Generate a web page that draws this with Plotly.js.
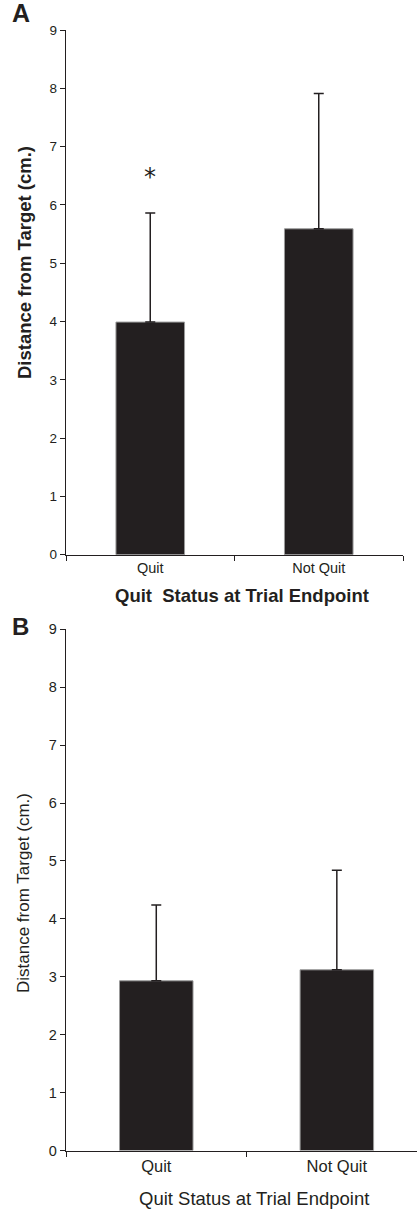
<!DOCTYPE html>
<html>
<head>
<meta charset="utf-8">
<script src="https://cdn.plot.ly/plotly-3.0.1.min.js"></script>
<style>
html,body{margin:0;padding:0;background:#fff;overflow:hidden;}
#chart{width:417px;height:1209px;}
</style>
</head>
<body>
<div id="chart"></div>
<script>
// ---- data ----
const categories = ['Quit', 'Not Quit'];
const meanA = [3.99, 5.59];
const errA = [1.87, 2.32];
const meanB = [2.93, 3.12];
const errB = [1.31, 1.72];
const yTicks = [0, 1, 2, 3, 4, 5, 6, 7, 8, 9];
const yTitle = 'Distance from Target (cm.)';
const xTitleA = 'Quit  Status at Trial Endpoint';
const xTitleB = 'Quit Status at Trial Endpoint';
const sigMarkY = 6.52;

const ink = '#231f20';
const FONT = 'Liberation Sans, Arial, sans-serif';

const traceA = {
  type: 'bar', x: categories, y: meanA, xaxis: 'x', yaxis: 'y',
  marker: {color: ink, line: {color: '#9a9a9a', width: 1}},
  width: 0.407,
  error_y: {type: 'data', symmetric: false, array: errA, arrayminus: [0, 0],
            color: ink, thickness: 1.5, width: 5},
  hoverinfo: 'x+y', showlegend: false
};
const traceB = {
  type: 'bar', x: categories, y: meanB, xaxis: 'x2', yaxis: 'y2',
  marker: {color: ink, line: {color: '#9a9a9a', width: 1}},
  width: 0.407,
  error_y: {type: 'data', symmetric: false, array: errB, arrayminus: [0, 0],
            color: ink, thickness: 1.5, width: 5},
  hoverinfo: 'x+y', showlegend: false
};

const W = 417, H = 1209;
const px = v => v / W;
const py = v => 1 - v / H;

function yAxis(domain, size, anchor) {
  return {
    domain: domain, anchor: anchor, range: [0, 9], tickvals: yTicks,
    ticks: 'outside', ticklen: 5, tickwidth: 1, tickcolor: ink,
    showline: true, linecolor: ink, linewidth: 1.2,
    showgrid: false, zeroline: false, automargin: false,
    tickfont: {family: FONT, size: size, color: ink}, fixedrange: true
  };
}
function xAxis(domain, range, size, anchor) {
  return {
    domain: domain, anchor: anchor, type: 'category', range: range,
    tickson: 'boundaries', ticks: 'outside', ticklen: 5, tickwidth: 1, tickcolor: ink,
    showline: true, linecolor: ink, linewidth: 1.2,
    showgrid: false, zeroline: false, automargin: false,
    tickfont: {family: FONT, size: size, color: ink}, fixedrange: true
  };
}

const layout = {
  width: W, height: H,
  margin: {l: 0, r: 0, t: 0, b: 0},
  paper_bgcolor: '#fff', plot_bgcolor: '#fff',
  bargap: 0.6,
  xaxis: xAxis([px(66), px(403)], [-0.5, 1.5], 14.5, 'y'),
  yaxis: yAxis([py(554.7), py(30)], 13.5, 'x'),
  xaxis2: xAxis([px(66), 1], [-0.5, 1.444], 16.5, 'y2'),
  yaxis2: yAxis([py(1150.5), py(629.3)], 14.5, 'x2'),
  annotations: [
    {text: '<b>A</b>', xref: 'paper', yref: 'paper', x: px(10), y: py(13),
     xanchor: 'left', yanchor: 'middle', showarrow: false,
     font: {family: FONT, size: 25, color: ink}},
    {text: '<b>B</b>', xref: 'paper', yref: 'paper', x: px(10), y: py(626),
     xanchor: 'left', yanchor: 'middle', showarrow: false,
     font: {family: FONT, size: 24, color: ink}},
    {text: '<b>' + yTitle + '</b>', xref: 'paper', yref: 'paper', x: px(25), y: py(263),
     xanchor: 'center', yanchor: 'middle', textangle: -90, showarrow: false,
     font: {family: FONT, size: 18.5, color: ink}},
    {text: yTitle, xref: 'paper', yref: 'paper', x: px(23), y: py(893),
     xanchor: 'center', yanchor: 'middle', textangle: -90, showarrow: false,
     font: {family: FONT, size: 17, color: ink}},
    {text: '<b>' + xTitleA.replace('  ', ' &nbsp;') + '</b>', xref: 'paper', yref: 'paper', x: px(242), y: py(595),
     xanchor: 'center', yanchor: 'middle', showarrow: false,
     font: {family: FONT, size: 18.5, color: ink}},
    {text: xTitleB, xref: 'paper', yref: 'paper', x: px(254), y: py(1198),
     xanchor: 'center', yanchor: 'middle', showarrow: false,
     font: {family: FONT, size: 18.5, color: ink}},
    {text: '*', xref: 'x', yref: 'y', x: categories[0], y: sigMarkY,
     xanchor: 'center', yanchor: 'middle', showarrow: false, yshift: -2,
     font: {family: 'DejaVu Sans, sans-serif', size: 24, color: ink}}
  ]
};

Plotly.newPlot('chart', [traceA, traceB], layout, {displayModeBar: false, staticPlot: true});
</script>
</body>
</html>
